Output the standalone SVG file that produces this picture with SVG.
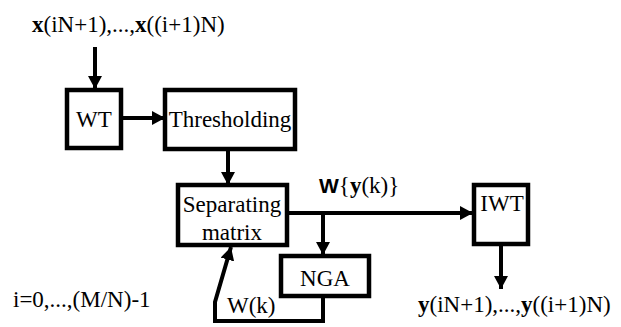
<svg xmlns="http://www.w3.org/2000/svg" width="621" height="327" viewBox="0 0 621 327">
<style>
.box{fill:#fff;stroke:#000;stroke-width:4.5}
text{font-family:'Liberation Serif','Times New Roman',Times,serif;font-size:23px;fill:#000}
.c{text-anchor:middle}
.ln{fill:none;stroke:#000;stroke-width:4}
</style>
<defs>
<marker id="ah" markerUnits="userSpaceOnUse" markerWidth="14" markerHeight="14" refX="13" refY="7" orient="auto">
<path d="M0,0 L13,7 L0,14 z" fill="#000"/>
</marker>
</defs>
<rect width="621" height="327" fill="#fff"/>
<text x="32" y="32"><tspan font-weight="bold">x</tspan>(iN+1),...,<tspan font-weight="bold">x</tspan>((i+1)N)</text>
<g id="connectors">
<line class="ln" x1="95" y1="47" x2="95" y2="89" marker-end="url(#ah)"/>
<line class="ln" x1="121" y1="118" x2="165" y2="118" marker-end="url(#ah)"/>
<line class="ln" x1="228" y1="150" x2="228" y2="185" marker-end="url(#ah)"/>
<line class="ln" x1="288" y1="213" x2="473" y2="213" marker-end="url(#ah)"/>
<line class="ln" x1="323" y1="213" x2="323" y2="255" marker-end="url(#ah)"/>
<line class="ln" x1="501" y1="245" x2="501" y2="289" marker-end="url(#ah)"/>
<path class="ln" d="M323,297 V321 H215 V302 L231,247" marker-end="url(#ah)"/>
</g>
<g id="wt"><rect class="box" x="67" y="90" width="54" height="58"/><text class="c" x="94" y="127">WT</text></g>
<g id="thresholding"><rect class="box" x="165" y="90" width="130" height="59"/><text class="c" x="230" y="127">Thresholding</text></g>
<g id="separating"><rect class="box" x="178" y="185" width="109" height="60"/><text class="c" x="232" y="212">Separating</text><text class="c" x="232" y="240">matrix</text></g>
<g id="iwt"><rect class="box" x="474" y="185" width="54" height="59"/><text class="c" x="502" y="211">IWT</text></g>
<g id="nga"><rect class="box" x="281" y="256" width="88" height="40"/><text class="c" x="325" y="286">NGA</text></g>
<text x="319" y="193"><tspan style="font-family:'Liberation Sans',Arial,sans-serif;font-weight:bold;font-size:21px">W</tspan>{<tspan font-weight="bold">y</tspan>(k)}</text>
<text x="227" y="313">W(k)</text>
<text x="13" y="307">i=0,...,(M/N)-1</text>
<text x="418" y="312"><tspan font-weight="bold">y</tspan>(iN+1),...,<tspan font-weight="bold">y</tspan>((i+1)N)</text>
</svg>
